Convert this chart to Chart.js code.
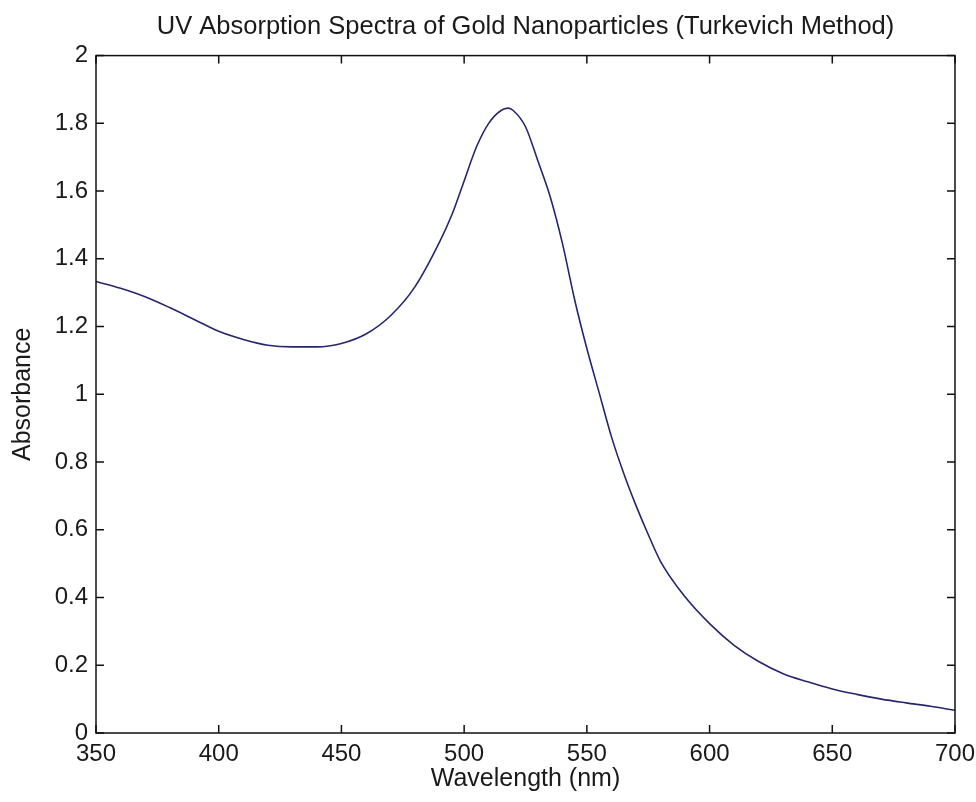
<!DOCTYPE html>
<html>
<head>
<meta charset="utf-8">
<script src="https://cdn.jsdelivr.net/npm/chart.js@4.4.0/dist/chart.umd.min.js"></script>
<style>
  html, body { margin: 0; padding: 0; background: #fff; }
  #wrap { width: 976px; height: 802px; }
</style>
</head>
<body>
<div id="wrap"><canvas id="chart" width="976" height="802"></canvas></div>
<script>
// wavelength in nm
const wavelengths = [350, 360, 370, 380, 390, 400, 410, 420, 430, 440, 450, 460, 470, 480, 490, 495,
    500, 505, 510, 515, 518, 520, 525, 530, 535, 540, 545, 550, 555, 560, 565, 570, 575, 580,
    590, 600, 610, 620, 630, 640, 650, 660, 670, 680, 690, 700];
// absorbance
const absorbance = [1.333, 1.313, 1.288, 1.256, 1.221, 1.186, 1.162, 1.145, 1.140, 1.140, 1.150, 1.178, 1.232, 1.318, 1.45, 1.53,
    1.63, 1.73, 1.80, 1.838, 1.845, 1.838, 1.79, 1.69, 1.585, 1.447, 1.28, 1.135, 1.005, 0.875, 0.767, 0.672, 0.586, 0.507,
    0.402, 0.323, 0.259, 0.211, 0.175, 0.151, 0.130, 0.114, 0.100, 0.089, 0.079, 0.067];
const xTicks = [350, 400, 450, 500, 550, 600, 650, 700];
const yTicks = [0, 0.2, 0.4, 0.6, 0.8, 1, 1.2, 1.4, 1.6, 1.8, 2];

const fontFamily = '"Liberation Sans", Arial, sans-serif';
const textColor = '#1a1a1a';

// matlab style box with inward ticks on all four sides
const boxPlugin = {
    id: 'boxTicks',
    afterDraw(chart) {
        const {ctx, chartArea: a, scales} = chart;
        const len = 8;
        ctx.save();
        ctx.strokeStyle = '#111';
        ctx.lineWidth = 1.5;
        ctx.beginPath();
        scales.x.ticks.forEach(t => {
            const px = scales.x.getPixelForValue(t.value);
            ctx.moveTo(px, a.bottom);
            ctx.lineTo(px, a.bottom - len);
            ctx.moveTo(px, a.top);
            ctx.lineTo(px, a.top + len);
        });
        scales.y.ticks.forEach(t => {
            const py = scales.y.getPixelForValue(t.value);
            ctx.moveTo(a.left, py);
            ctx.lineTo(a.left + len, py);
            ctx.moveTo(a.right, py);
            ctx.lineTo(a.right - len, py);
        });
        ctx.stroke();
        ctx.strokeRect(a.left, a.top, a.right - a.left, a.bottom - a.top);
        ctx.restore();
    }
};

new Chart(document.getElementById('chart'), {
    type: 'line',
    data: {
        datasets: [{
            data: wavelengths.map((w, i) => ({x: w, y: absorbance[i]})),
            borderColor: '#26266e',
            borderWidth: 1.6,
            pointRadius: 0,
            fill: false,
            cubicInterpolationMode: 'monotone'
        }]
    },
    options: {
        responsive: false,
        animation: false,
        layout: {padding: {left: 0, right: 21, top: 0, bottom: 0}},
        plugins: {
            legend: {display: false},
            tooltip: {enabled: false},
            title: {
                display: true,
                text: 'UV Absorption Spectra of Gold Nanoparticles (Turkevich Method)',
                fullSize: false,
                color: textColor,
                font: {family: fontFamily, size: 25.5, weight: 'normal', lineHeight: 1.2},
                padding: {top: 12, bottom: 13}
            }
        },
        scales: {
            x: {
                type: 'linear',
                min: 350,
                max: 700,
                afterBuildTicks: s => { s.ticks = xTicks.map(v => ({value: v})); },
                afterFit: s => { s.height = 69; s.paddingLeft = 0; s.paddingRight = 0; },
                grid: {display: false, drawTicks: false},
                border: {display: false},
                ticks: {color: textColor, padding: 7, font: {family: fontFamily, size: 24}, maxRotation: 0,
                    callback: v => String(v)},
                title: {
                    display: true,
                    text: 'Wavelength (nm)',
                    color: textColor,
                    font: {family: fontFamily, size: 25},
                    padding: {top: 0, bottom: 8}
                }
            },
            y: {
                min: 0,
                max: 2,
                afterBuildTicks: s => { s.ticks = yTicks.map(v => ({value: v})); },
                afterFit: s => { s.width = 96; s.paddingTop = 0; s.paddingBottom = 0; },
                grid: {display: false, drawTicks: false},
                border: {display: false},
                ticks: {color: textColor, padding: 8, font: {family: fontFamily, size: 24},
                    callback: v => String(Math.round(v * 10) / 10)},
                title: {
                    display: true,
                    text: 'Absorbance',
                    color: textColor,
                    font: {family: fontFamily, size: 25},
                    padding: {top: 8, bottom: 0}
                }
            }
        }
    },
    plugins: [boxPlugin]
});
</script>
</body>
</html>
